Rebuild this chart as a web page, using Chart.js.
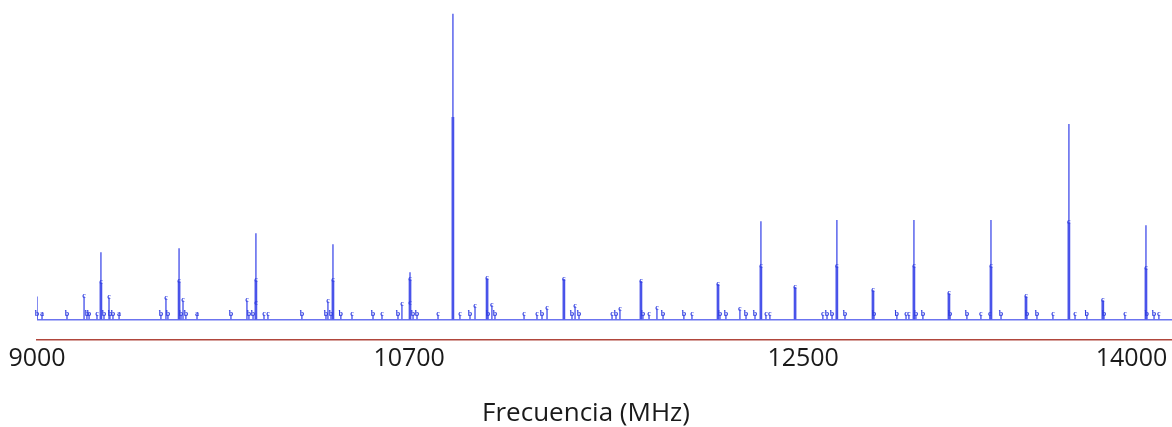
<!DOCTYPE html>
<html lang="es">
<head>
    <meta charset="UTF-8">
    <title>Espectro</title>
    <style>
        body {
            margin: 0;
            background-color: #ffffff;
        }
        .chart-box {
            width: 1172px;
            height: 427px;
        }
    </style>
</head>
<body>
    <div class="chart-box">
        <canvas id="spectrum"></canvas>
    </div>

    <script src="https://cdn.jsdelivr.net/npm/chart.js"></script>
    <script>
        // Axis ticks (MHz)
        const xTicks = [9000, 10700, 12500, 14000];

        // Main lines: frequency, full height, height of the darker core, letter
        const peakFreq = [9292, 9649, 10000, 10352, 10704, 10900, 11056, 11407, 11759, 12111, 12307,
                          12463, 12654, 12819, 13006, 13166, 13358, 13518, 13714, 13869, 14066];
        const peakHeight = [22.0, 23.3, 28.2, 24.6, 15.4, 100, 13.4, 13.1, 12.5, 11.5, 32.1,
                            10.5, 32.5, 9.5, 32.5, 8.5, 32.5, 7.5, 63.9, 6.2, 30.8];
        const peakCore = [12.1, 12.5, 12.8, 12.8, 13.1, 66.2, 13.4, 13.1, 12.5, 11.5, 17.4,
                          10.5, 17.4, 9.5, 17.4, 8.5, 17.4, 7.5, 31.8, 6.2, 16.7];
        const peakLetter = ['c', 'c', 'c', 'c', 'c', '', 'c', 'c', 'c', 'c', 'c',
                            'c', 'c', 'c', 'c', 'c', 'c', 'c', 'c', 'c', 'c'];

        // Small labelled lines
        const stemFreq = [9000, 9215, 9329, 9589, 9667, 9959, 10000, 10329, 10667, 10704,
                          11001, 11078, 11330, 11458, 11663, 11832, 12211];
        const stemHeight = [7.5, 7.5, 7.2, 6.9, 6.2, 6.2, 5.2, 5.9, 4.9, 5.2,
                            4.3, 4.6, 3.6, 4.3, 3.3, 3.6, 3.3];
        const stemLetter = ['', 'c', 'c', 'c', 'c', 'c', 'c', 'c', 'c', 'c',
                            'c', 'c', 'c', 'c', 'c', 'c', 'c'];

        // Tiny marks sitting on the baseline
        const markHeight = 1.5;
        const markFreq = [9000, 9023, 9137, 9228, 9238, 9274, 9306, 9333, 9347, 9375,
                          9566, 9598, 9658, 9680, 9731, 9886, 9968, 9987, 10037, 10055,
                          10210, 10320, 10343, 10388, 10439, 10535, 10576, 10649, 10718, 10736,
                          10832, 10932, 10978, 11060, 11092, 11225, 11284, 11307, 11444, 11476,
                          11627, 11645, 11768, 11796, 11860, 11955, 11992, 12120, 12147, 12239,
                          12280, 12330, 12348, 12590, 12609, 12632, 12691, 12823, 12928, 12970,
                          12983, 13015, 13047, 13171, 13248, 13312, 13353, 13404, 13522, 13568,
                          13641, 13742, 13796, 13874, 13970, 14070, 14103, 14125];
        const markLetter = ['b', 'a', 'b', 'b', 'b', 'c', 'b', 'b', 'b', 'a',
                            'b', 'b', 'b', 'b', 'a', 'b', 'b', 'b', 'c', 'c',
                            'b', 'b', 'b', 'b', 'c', 'b', 'c', 'b', 'b', 'b',
                            'c', 'c', 'b', 'b', 'b', 'c', 'c', 'b', 'b', 'b',
                            'c', 'b', 'b', 'c', 'b', 'b', 'c', 'b', 'b', 'b',
                            'b', 'c', 'c', 'c', 'b', 'b', 'b', 'b', 'b', 'c',
                            'c', 'b', 'b', 'b', 'b', 'c', 'c', 'b', 'b', 'b',
                            'c', 'c', 'b', 'b', 'c', 'b', 'b', 'c'];

        const thinData = [
            ...peakFreq.map((f, i) => ({ x: f, y: peakHeight[i] })),
            ...stemFreq.map((f, i) => ({ x: f, y: stemHeight[i] })),
            ...markFreq.map(f => ({ x: f, y: markHeight }))
        ];
        const coreData = peakFreq.map((f, i) => ({ x: f, y: peakCore[i] }));

        // small blue letters over the lines
        const letterPlugin = {
            id: 'letters',
            afterDatasetsDraw(chart) {
                const { ctx, scales: { x, y } } = chart;
                ctx.save();
                ctx.font = 'bold 8px "Liberation Serif"';
                ctx.fillStyle = '#2f3de0';
                ctx.textAlign = 'center';
                ctx.textBaseline = 'bottom';
                const put = (f, v, t) => {
                    if (t) ctx.fillText(t, x.getPixelForValue(f), y.getPixelForValue(v) + 3);
                };
                peakFreq.forEach((f, i) => put(f, peakCore[i], peakLetter[i]));
                stemFreq.forEach((f, i) => put(f, stemHeight[i], stemLetter[i]));
                markFreq.forEach((f, i) => put(f, markHeight, markLetter[i]));
                ctx.restore();
            }
        };

        new Chart(document.getElementById('spectrum'), {
            type: 'bar',
            data: {
                datasets: [{
                    label: 'Espectro',
                    data: thinData,
                    backgroundColor: 'rgba(80, 90, 235, 0.85)',
                    barThickness: 1,
                    grouped: false
                }, {
                    label: 'Núcleo',
                    data: coreData,
                    backgroundColor: '#3b45e6',
                    barThickness: 2,
                    grouped: false
                }]
            },
            options: {
                responsive: true,
                maintainAspectRatio: false,
                animation: false,
                layout: {
                    padding: 0
                },
                plugins: {
                    legend: { display: false },
                    tooltip: { enabled: false },
                    title: {
                        display: true,
                        position: 'bottom',
                        text: 'Frecuencia (MHz)',
                        color: '#1a1a1a',
                        font: { family: 'Open Sans', size: 26, weight: 'normal' },
                        padding: { top: 20, bottom: -2 }
                    }
                },
                scales: {
                    x: {
                        type: 'linear',
                        offset: false,
                        min: 9000,
                        max: 14185,
                        afterBuildTicks: scale => {
                            scale.ticks = xTicks.map(v => ({ value: v }));
                        },
                        grid: { display: false, drawTicks: false },
                        border: { display: true, color: '#b0463c', width: 1.5 },
                        ticks: {
                            padding: 4,
                            color: '#1a1a1a',
                            font: { family: 'Open Sans', size: 25 },
                            maxRotation: 0,
                            autoSkip: false,
                            callback: v => String(v)
                        }
                    },
                    y: {
                        min: -6.56,
                        max: 104.6,
                        afterBuildTicks: scale => {
                            scale.ticks = [{ value: 0 }];
                        },
                        afterFit: scale => {
                            scale.width = 37;
                        },
                        grid: { color: '#6b74f0', lineWidth: 1.5, drawTicks: false },
                        border: { display: false },
                        ticks: { display: false }
                    }
                }
            },
            plugins: [letterPlugin]
        });
    </script>
</body>
</html>
